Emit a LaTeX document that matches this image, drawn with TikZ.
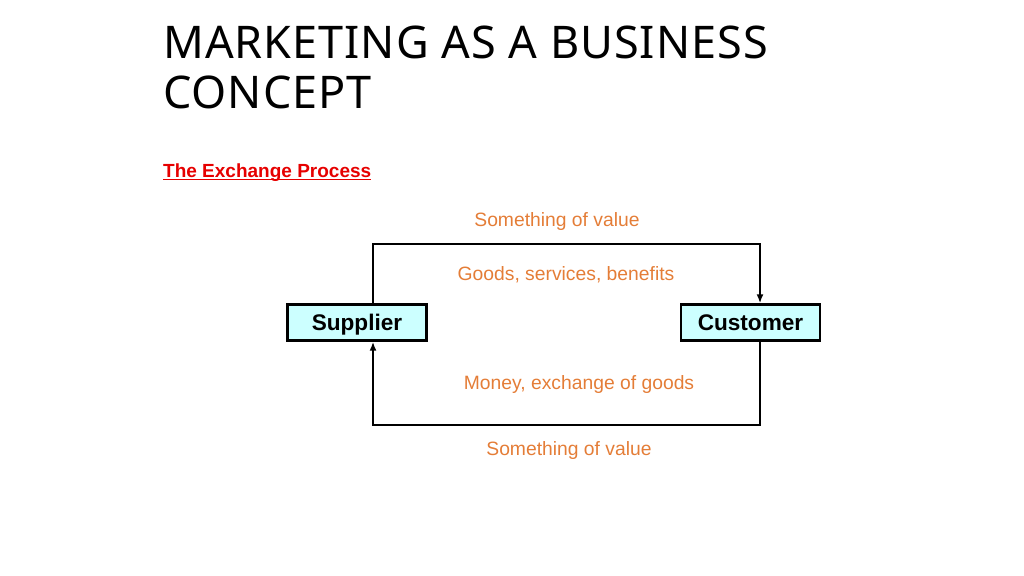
\documentclass[tikz,border=0pt]{standalone}
\usepackage{fontspec}
\setmainfont{Liberation Sans}
\newfontfamily\titlefont[LetterSpace=2.2]{Noto Sans}
\usetikzlibrary{arrows.meta}
\definecolor{lblorange}{RGB}{228,125,55}
\definecolor{boxcyan}{RGB}{204,255,255}
\definecolor{hdred}{RGB}{230,0,0}
\tikzset{
  actor/.style={draw=black, line width=2.4pt, fill=boxcyan, minimum width=139pt, minimum height=36pt, inner sep=0pt, text height=16.2pt, text depth=0pt, font=\fontsize{22.6}{26}\selectfont\bfseries},
  lbl/.style={anchor=base, text=lblorange, font=\fontsize{19.3}{23}\selectfont, inner sep=0pt},
  flow/.style={draw=black, line width=1.8pt, -{Latex[length=9pt,width=7pt]}}
}
\begin{document}
\begin{tikzpicture}[x=1pt,y=-1pt]
\useasboundingbox (0,0) rectangle (1024,575);
\node[anchor=base west, inner sep=0pt, font=\titlefont\fontsize{45}{51}\selectfont] (t1) at (163,59) {MARKETING AS A BUSINESS};
\node[anchor=base west, inner sep=0pt, font=\titlefont\fontsize{45}{51}\selectfont] (t2) at (163,109) {CONCEPT};
\node[anchor=base west, inner sep=0pt, text=hdred, font=\fontsize{19}{23}\selectfont\bfseries] (sub) at (163,177) {The Exchange Process};
\draw[hdred, line width=1pt] ([yshift=-2.5pt]sub.base west) -- ([yshift=-2.5pt]sub.base east);
\node[actor] (sup) at (357,322.5) {Supplier};
\node[actor] (cus) at (750.5,322.5) {Customer};
\coordinate (tl) at (373,244);
\coordinate (tr) at (760,244);
\coordinate (bl) at (373,425);
\coordinate (br) at (760,425);
\draw[flow] (sup.north -| tl) -- (tl) -- (tr) -- (cus.north -| tr);
\draw[flow] (cus.south -| br) -- (br) -- (bl) -- (sup.south -| bl);
\node[lbl] (l1) at (557,226) {Something of value};
\node[lbl] (l2) at (566,280) {Goods, services, benefits};
\node[lbl] (l3) at (579,389) {Money, exchange of goods};
\node[lbl] (l4) at (569,455) {Something of value};
\end{tikzpicture}
\end{document}
